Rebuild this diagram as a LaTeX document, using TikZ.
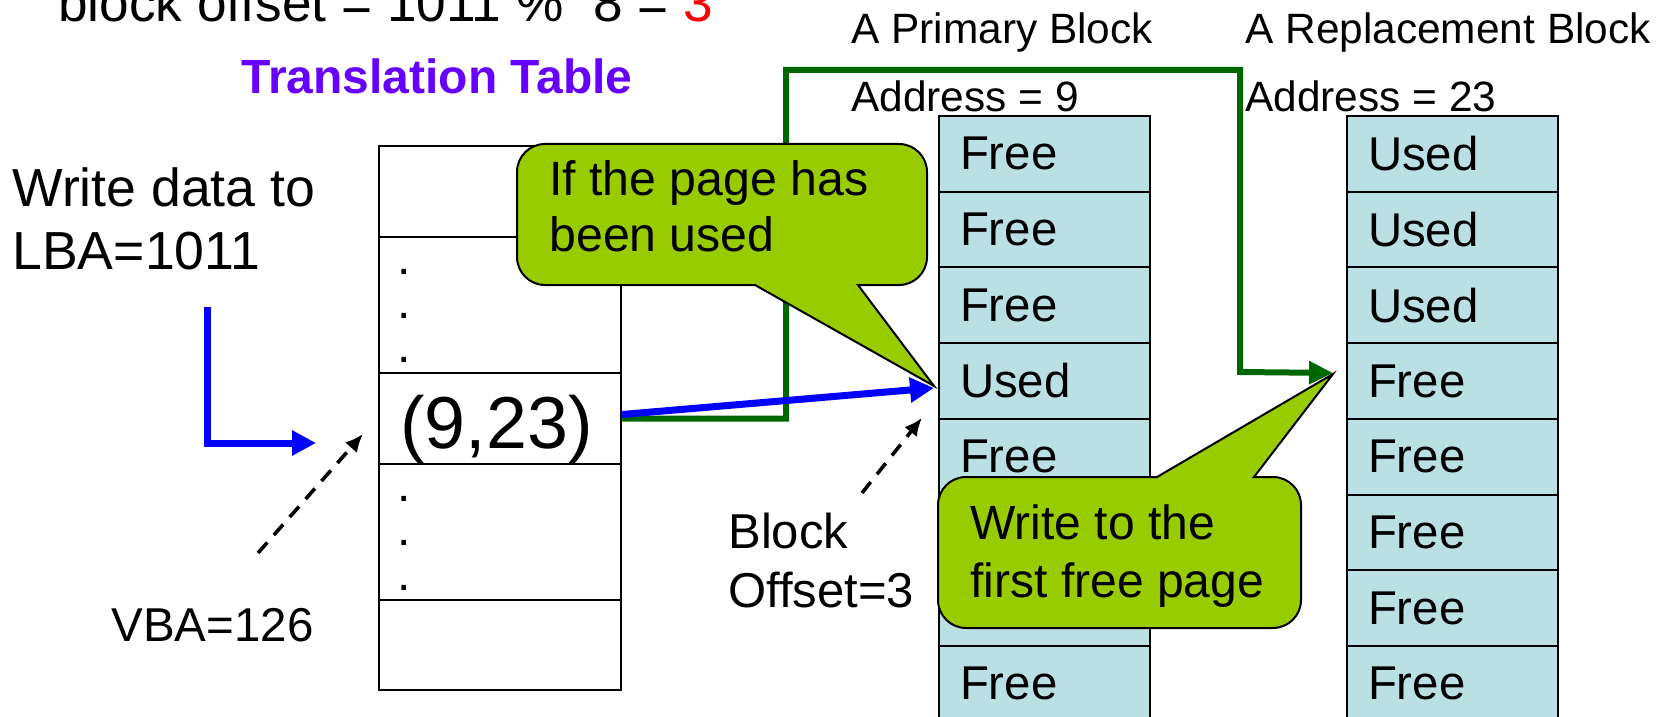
\documentclass[tikz,border=0pt]{standalone}
\usepackage{fontspec}
\setmainfont{Liberation Sans}
\usepackage{tikz}
\usetikzlibrary{arrows.meta}

\definecolor{cellcyan}{RGB}{187,224,227}
\definecolor{calloutgreen}{RGB}{153,204,0}
\definecolor{titlepurple}{RGB}{102,0,255}
\definecolor{pathgreen}{RGB}{0,102,0}

\begin{document}
\begin{tikzpicture}[x=0.5pt,y=-0.5pt,
    txt/.style={inner sep=0pt,anchor=base west},
    row/.style={draw,line width=1pt,minimum width=121pt,anchor=north west},
    cell/.style={draw,line width=1pt,fill=cellcyan,minimum width=105.5pt,
        minimum height=37.85pt,text width=84.5pt,align=left,inner xsep=10.5pt,
        inner ysep=0pt,anchor=north west,font=\fontsize{23.7pt}{28pt}\selectfont},
    callout/.style={draw=black,line width=1pt,fill=calloutgreen},
    ptr/.style={blue,line width=3.5pt,-{Triangle[length=12pt,width=12pt]}},
    gptr/.style={pathgreen,line width=3pt,-{Triangle[length=12pt,width=11pt]}},
    dashptr/.style={line width=1.8pt,dash pattern=on 7pt off 5pt,-{Latex[length=9pt,width=8pt]}}]
        \useasboundingbox (0,0) rectangle (1667,717);

        % translation table
        \node[row,minimum height=45.5pt] (t1) at (378,145) {};
        \node[row,minimum height=68pt] (t2) at (378,236) {};
        \node[row,minimum height=45.5pt] (tv) at (378,372) {};
        \node[row,minimum height=68pt] (t4) at (378,463) {};
        \node[row,minimum height=45pt] (t5) at (378,599) {};
        \foreach \y [count=\k] in {274,318,362,501,545,590}
            \node[txt,font=\fontsize{24pt}{24pt}\selectfont] (dot\k) at (397,\y) {.};
        \node[txt,font=\fontsize{36.8pt}{40pt}\selectfont] (tvtext) at (400,448) {(9,23)};

        % the two flash blocks
        \foreach \lab [count=\i] in {Free,Free,Free,Used,Free,{},{},Free}
            \node[cell] (p\i) at (938,{115+75.7*(\i-1)}) {\lab};
        \foreach \lab [count=\i] in {Used,Used,Used,Free,Free,Free,Free,Free}
            \node[cell] (r\i) at (1346,{115+75.7*(\i-1)}) {\lab};

        \node[txt,font=\fontsize{26.6pt}{31pt}\selectfont] (offset) at (58,22)
            {block offset = 1011 \%~~8 = \textcolor{red}{3}};
        \node[txt,text=titlepurple,font=\bfseries\fontsize{24pt}{28pt}\selectfont] (ttitle) at (241,94) {Translation Table};
        \node[txt,font=\fontsize{21.2pt}{25pt}\selectfont] (pname) at (851,44) {A Primary Block};
        \node[txt,font=\fontsize{21.2pt}{25pt}\selectfont] (rname) at (1245,44) {A Replacement Block};
        \node[txt,font=\fontsize{21.2pt}{25pt}\selectfont] (paddr) at (851,112) {Address = 9};
        \node[txt,font=\fontsize{21.2pt}{25pt}\selectfont] (raddr) at (1245,112) {Address = 23};
        \node[txt,align=left,font=\fontsize{26.8pt}{32pt}\selectfont] (lba) at (12,270) {Write data to\\LBA=1011};
        \node[txt,font=\fontsize{23.75pt}{28pt}\selectfont] (vba) at (111,641) {VBA=126};
        \node[txt,align=left,font=\fontsize{24.5pt}{29.2pt}\selectfont] (boff) at (728,607) {Block\\Offset=3};

        % old pair -> replacement block
        \draw[gptr] (tv.east) -| (786,70) -| (1240,372) -- ([xshift=-6.5pt,yshift=4pt]r4.west);

        % callouts
        \draw[callout] (934,386) -- (858,285) [rounded corners=14pt] -- (927,285)
            -- (927,144) -- (517,144) -- (517,285) [sharp corners] -- (755,285) -- cycle;
        \node[txt,align=left,font=\fontsize{24.1pt}{28pt}\selectfont] (usedtext) at (549,251) {If the page has\\been used};
        \draw[callout] (1333,374) -- (1157,477) [rounded corners=14pt] -- (938,477)
            -- (938,628) -- (1301,628) -- (1301,477) [sharp corners] -- (1254,477) -- cycle;
        \node[txt,align=left,font=\fontsize{24pt}{28.7pt}\selectfont] (freetext) at (970,597) {Write to the\\first free page};

        \coordinate (lstart) at (207,307);
        \coordinate (lend) at (316,443);
        \draw[ptr] (lstart) |- (lend);
        \draw[ptr] ([yshift=2pt]tv.east) -- ([xshift=-2pt,yshift=-3.5pt]p4.west);

        \coordinate (vbatail) at (258,553);
        \coordinate (offtail) at (862,493);
        \draw[dashptr] (vbatail) -- ([xshift=-7.5pt,yshift=-7.75pt]tv.west);
        \draw[dashptr] (offtail) -- ([xshift=-8pt]p5.north west);
\end{tikzpicture}
\end{document}
